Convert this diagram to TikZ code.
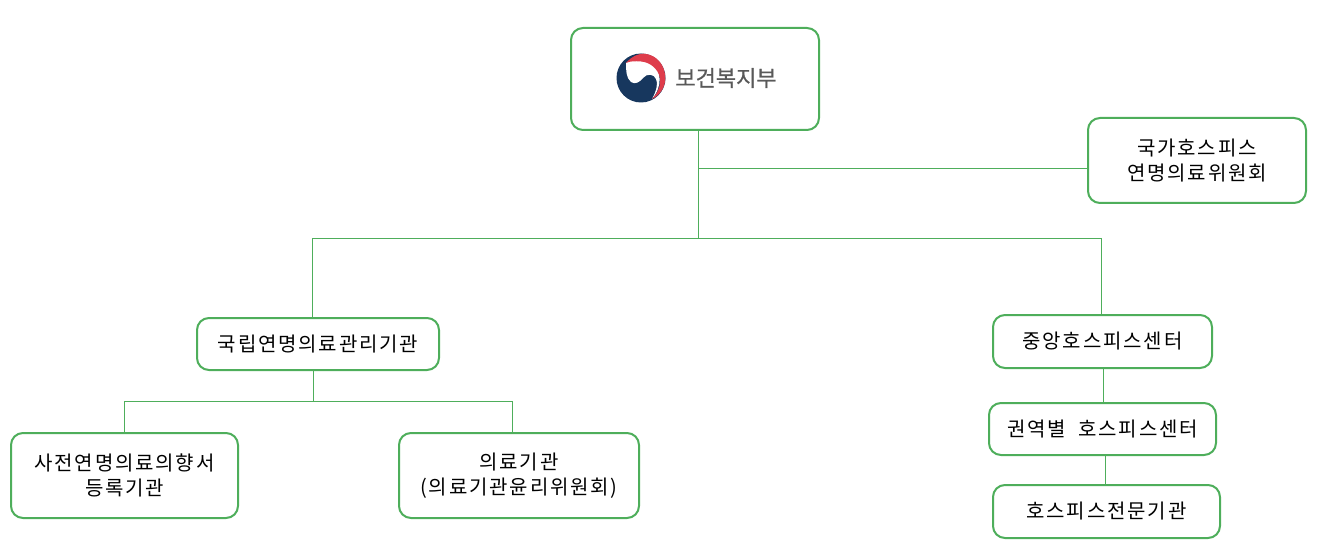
\documentclass[tikz,border=0pt]{standalone}
\usepackage{fontspec}
\setmainfont[LetterSpace=9]{Noto Sans CJK KR}
\newfontfamily\logofont[FakeBold=0.6]{Noto Sans CJK KR}
\usetikzlibrary{calc}
\definecolor{boxgreen}{HTML}{4EAE5B}
\definecolor{navy}{HTML}{17375E}
\definecolor{logored}{HTML}{DE3C4B}
\definecolor{logogray}{HTML}{595959}
\newcommand{\dropline}[1]{\raisebox{-1pt}{#1}}
\tikzset{
  x=1pt,y=-1pt,
  orgbox/.style={draw=boxgreen,line width=2pt,rounded corners=12pt,fill=white,inner sep=0pt,
    minimum width=#1,align=center,font=\fontsize{20}{25}\selectfont,text=black},
  link/.style={draw=boxgreen,line width=1pt},
}
\begin{document}
\begin{tikzpicture}
\useasboundingbox (0,0) rectangle (1318,556);
\node[orgbox=248pt,minimum height=102pt] (top) at (695,79) {};
\node[orgbox=218pt,minimum height=85pt] (nat) at (1197,160.5) {\dropline{국가호스피스}\\\dropline{연명의료위원회}};
\node[orgbox=242pt,minimum height=52pt] (ncmo) at (318,344) {국립연명의료관리기관};
\node[orgbox=219pt,minimum height=53pt] (center) at (1102.5,341.5) {중앙호스피스센터};
\node[orgbox=227pt,minimum height=52pt] (region) at (1102.5,429) {권역별 \ 호스피스센터};
\node[orgbox=227pt,minimum height=53pt] (expert) at (1106.5,511.5) {호스피스전문기관};
\node[orgbox=227pt,minimum height=85pt] (reg) at (124.5,475.5) {\dropline{사전연명의료의향서}\\\dropline{등록기관}};
\node[orgbox=240pt,minimum height=85pt] (hosp) at (519,475.5) {\dropline{의료기관}\\\dropline{(의료기관윤리위원회)}};
% logo
\coordinate (lg) at (641,78);
\fill[navy] (lg) circle (24.5);
\begin{scope}[shift={(lg)}]
\fill[white] (-15,-15) .. controls (-8,-20) and (4,-21) .. (12,-14)
  .. controls (20,-7) and (22,8) .. (11,21)
  .. controls (16,12) and (17,5) .. (15,1)
  .. controls (13,-4) and (6,-5) .. (2,0)
  .. controls (-1,4) and (-6,7) .. (-10,4)
  .. controls (-15,0) and (-15,-8) .. (-15,-15) -- cycle;
\fill[logored] (-15,-15) .. controls (-9,-22) and (-2,-24.6) .. (3,-24.3)
  .. controls (16,-23.5) and (24.7,-12) .. (24.3,1)
  .. controls (24,10) and (18,18) .. (11,21)
  .. controls (17,15) and (20,7) .. (19,0)
  .. controls (17,-10) and (8,-16) .. (0,-16.5)
  .. controls (-6,-17) and (-11,-17) .. (-15,-15) -- cycle;
\end{scope}
\node[inner sep=0pt,text=logogray,font=\logofont\fontsize{22}{24}\selectfont] (logotext) at (726,78) {보건복지부};
% connectors
\coordinate (j1) at (698.5,238.5);
\coordinate (j2) at (698.5,168.5);
\coordinate (jl) at (312.5,238.5);
\coordinate (jr) at (1101.5,238.5);
\coordinate (j3) at (313,401);
\coordinate (jrg) at (124.5,401);
\coordinate (jh) at (512.5,401);
\draw[link] (top.south -| j1) -- (j1);
\draw[link] (j2) -- (nat.west |- j2);
\draw[link] (jl) -- (jr);
\draw[link] (jl) -- (jl |- ncmo.north);
\draw[link] (jr) -- (jr |- center.north);
\draw[link] (ncmo.south -| j3) -- (j3);
\draw[link] (jrg) -- (jh);
\draw[link] (jrg) -- (jrg |- reg.north);
\draw[link] (jh) -- (jh |- hosp.north);
\coordinate (k1) at (1103,369);
\coordinate (k2) at (1105,455);
\draw[link] (k1) -- (k1 |- region.north);
\draw[link] (k2) -- (k2 |- expert.north);
\end{tikzpicture}
\end{document}
